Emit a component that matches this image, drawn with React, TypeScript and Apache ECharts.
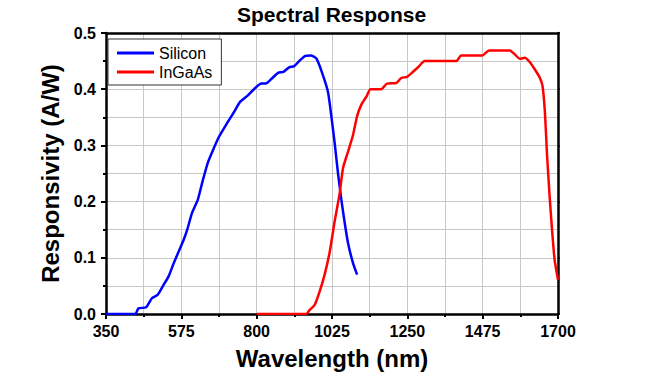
import React, { useEffect, useRef } from "react";
import * as echarts from "echarts";

const siliconWl = [350, 437, 447, 470, 487, 504, 522, 537, 552, 567, 582, 594, 607, 624, 637, 654, 672, 687, 712, 732, 750, 772, 792, 814, 827, 847, 864, 880, 897, 912, 927, 944, 962, 978, 995, 1013, 1023, 1033, 1043, 1053, 1063, 1073, 1088, 1100];
const siliconResp = [0, 0, 0.01, 0.012, 0.028, 0.034, 0.052, 0.067, 0.09, 0.111, 0.132, 0.153, 0.18, 0.203, 0.233, 0.269, 0.295, 0.315, 0.34, 0.359, 0.377, 0.388, 0.4, 0.41, 0.41, 0.42, 0.429, 0.431, 0.439, 0.441, 0.45, 0.459, 0.46, 0.455, 0.43, 0.395, 0.352, 0.304, 0.25, 0.203, 0.162, 0.126, 0.09, 0.07];

const ingaasWl = [800, 948, 958, 973, 988, 1003, 1018, 1033, 1048, 1058, 1073, 1088, 1100, 1113, 1128, 1140, 1172, 1189, 1217, 1232, 1249, 1267, 1282, 1302, 1396, 1411, 1474, 1494, 1556, 1571, 1586, 1601, 1616, 1631, 1646, 1654, 1661, 1667, 1675, 1683, 1690, 1700];
const ingaasResp = [0, 0, 0.007, 0.016, 0.04, 0.07, 0.11, 0.165, 0.215, 0.26, 0.289, 0.319, 0.352, 0.373, 0.387, 0.4, 0.4, 0.41, 0.411, 0.42, 0.422, 0.431, 0.439, 0.45, 0.45, 0.46, 0.46, 0.469, 0.469, 0.462, 0.454, 0.456, 0.448, 0.435, 0.42, 0.405, 0.358, 0.286, 0.209, 0.144, 0.096, 0.061];

const seriesNames = ["Silicon", "InGaAs"];
const titleText = "Spectral Response";
const xName = "Wavelength (nm)";
const yName = "Responsivity (A/W)";

const FONT = "'Liberation Sans', Arial, sans-serif";

export default function App() {
  const ref = useRef<HTMLDivElement>(null);
  useEffect(() => {
    if (!ref.current) return;
    const chart = echarts.init(ref.current, undefined, { renderer: "svg" });
    const si = siliconWl.map((w, i) => [w, siliconResp[i]]);
    const ig = ingaasWl.map((w, i) => [w, ingaasResp[i]]);
    const axisLine = { show: true, onZero: false, lineStyle: { color: "#000", width: 2.5 } };
    chart.setOption({
      animation: false,
      backgroundColor: "#fff",
      title: {
        text: titleText,
        left: 237,
        top: 4,
        padding: 0,
        textStyle: { fontFamily: FONT, fontSize: 21, fontWeight: "bold", color: "#000" },
      },
      legend: {
        orient: "vertical",
        left: 108,
        top: 39,
        padding: [6, 9, 5, 9],
        itemGap: 3,
        itemWidth: 37,
        itemHeight: 3,
        itemTextGap: 4,
        icon: "rect",
        backgroundColor: "#fff",
        borderColor: "#333",
        borderWidth: 1,
        borderRadius: 0,
        textStyle: { fontFamily: FONT, fontSize: 16, color: "#000" },
        data: seriesNames,
      },
      grid: { left: 106, right: 94, top: 33, bottom: 66, containLabel: false },
      xAxis: [
        {
          type: "value",
          min: 350,
          max: 1700,
          interval: 225,
          name: xName,
          nameLocation: "middle",
          nameGap: 32,
          nameTextStyle: { fontFamily: FONT, fontSize: 24, fontWeight: "bold", color: "#000" },
          axisLine,
          axisTick: { show: true, inside: false, length: 5, lineStyle: { color: "#000", width: 2 } },
          minorTick: { show: true, splitNumber: 2, length: 3, lineStyle: { color: "#000", width: 2 } },
          axisLabel: {
            fontFamily: FONT,
            fontSize: 16,
            fontWeight: "bold",
            color: "#000",
            margin: 9,
            formatter: (v: number) => String(v),
          },
          splitLine: { show: true, lineStyle: { color: "#c8c8c8", width: 1 } },
          minorSplitLine: { show: true, lineStyle: { color: "#c8c8c8", width: 1 } },
        },
        {
          type: "value",
          position: "top",
          min: 350,
          max: 1700,
          interval: 225,
          axisLine,
          axisTick: { show: false },
          axisLabel: { show: false },
          splitLine: { show: false },
        },
      ],
      yAxis: [
        {
          type: "value",
          min: 0,
          max: 0.5,
          interval: 0.1,
          name: yName,
          nameLocation: "middle",
          nameGap: 42,
          nameTextStyle: { fontFamily: FONT, fontSize: 24, fontWeight: "bold", color: "#000" },
          axisLine,
          axisTick: { show: true, inside: false, length: 5, lineStyle: { color: "#000", width: 2 } },
          minorTick: { show: true, splitNumber: 2, length: 3, lineStyle: { color: "#000", width: 2 } },
          axisLabel: {
            fontFamily: FONT,
            fontSize: 16,
            fontWeight: "bold",
            color: "#000",
            margin: 10,
            formatter: (v: number) => v.toFixed(1),
          },
          splitLine: { show: true, lineStyle: { color: "#c8c8c8", width: 1 } },
          minorSplitLine: { show: true, lineStyle: { color: "#c8c8c8", width: 1 } },
        },
        {
          type: "value",
          position: "right",
          min: 0,
          max: 0.5,
          interval: 0.1,
          axisLine,
          axisTick: { show: true, inside: false, length: 2, lineStyle: { color: "#000", width: 1.5 } },
          axisLabel: { show: false },
          splitLine: { show: false },
        },
      ],
      series: [
        {
          name: seriesNames[0],
          type: "line",
          data: si,
          symbol: "none",
          smooth: 0.2,
          lineStyle: { color: "#0000ff", width: 2.5 },
          itemStyle: { color: "#0000ff" },
          z: 3,
        },
        {
          name: seriesNames[1],
          type: "line",
          data: ig,
          symbol: "none",
          smooth: 0.2,
          lineStyle: { color: "#ff0000", width: 2.5 },
          itemStyle: { color: "#ff0000" },
          z: 3,
        },
      ],
    });
    return () => chart.dispose();
  }, []);
  return <div ref={ref} style={{ position: "absolute", left: 0, top: 0, width: 652, height: 380 }} />;
}
